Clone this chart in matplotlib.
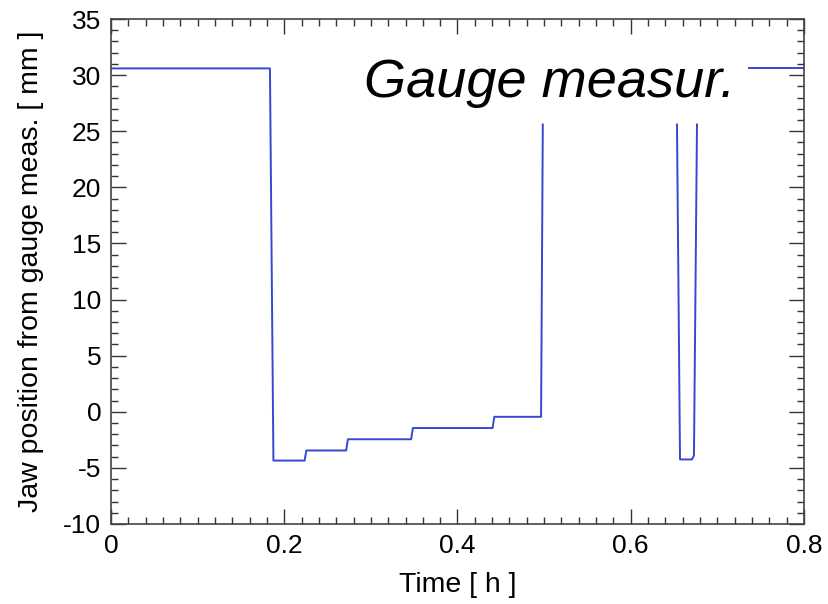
import numpy as np
import matplotlib
matplotlib.use("Agg")
import matplotlib.pyplot as plt
from matplotlib.ticker import MultipleLocator

# Segment 1: park position, closure with steps, opening
t1 = [0.0, 0.1835, 0.1875, 0.2235, 0.2255, 0.2715, 0.2735, 0.3465, 0.3485, 0.4405, 0.4425, 0.4965, 0.4985]
y1 = [30.6, 30.6, -4.35, -4.35, -3.45, -3.45, -2.45, -2.45, -1.45, -1.45, -0.45, -0.45, 25.6]
# Segment 2: second short closure
t2 = [0.6534, 0.6569, 0.6707, 0.6730, 0.6765]
y2 = [25.6, -4.25, -4.25, -3.9, 25.6]
# Segment 3: back at park position
t3 = [0.7365, 0.8]
y3 = [30.6, 30.6]

plt.rcParams['font.family'] = ['Liberation Sans', 'DejaVu Sans']
plt.rcParams['axes.unicode_minus'] = False

fig = plt.figure(figsize=(8.29, 6.04), dpi=100)
ax = fig.add_axes([0.1339, 0.1325, 0.8359, 0.836])

col = '#3549d0'
for t, y in ((t1, y1), (t2, y2), (t3, y3)):
    ax.plot(t, y, color=col, lw=1.4)

ax.set_xlim(0, 0.8)
ax.set_ylim(-10, 35)
ax.set_xticks([0, 0.2, 0.4, 0.6, 0.8])
ax.set_xticklabels(['0', '0.2', '0.4', '0.6', '0.8'])
ax.xaxis.set_minor_locator(MultipleLocator(0.02))
ax.yaxis.set_major_locator(MultipleLocator(5))
ax.yaxis.set_minor_locator(MultipleLocator(1))

ax.tick_params(which='both', direction='in', top=True, right=True, colors='#333333',
               labelcolor='black', labelsize=19)
ax.tick_params(which='major', length=11, width=1.0)
ax.tick_params(which='minor', length=5, width=1.0)
ax.tick_params(axis='x', pad=7)
ax.tick_params(axis='y', pad=7)
for s in ax.spines.values():
    s.set_color('#444444')
    s.set_linewidth(1.2)

ax.set_xlabel('Time [ h ]', fontsize=20.5, labelpad=10)
ax.set_ylabel('Jaw position from gauge meas. [ mm ]', fontsize=20.5, labelpad=14)

ax.text(0.7205, 28.05, 'Gauge measur.', fontsize=39, style='italic', ha='right', va='baseline',
        color='black')

fig.savefig('out.png', dpi=100)
